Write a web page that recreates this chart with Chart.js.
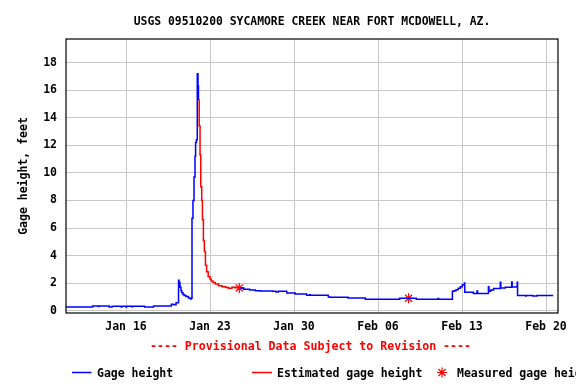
<!DOCTYPE html>
<html>
<head>
<meta charset="utf-8">
<script src="https://cdn.jsdelivr.net/npm/chart.js@4"></script>
<style>
  html, body { margin: 0; padding: 0; background: #fff; }
  #wrap { width: 576px; height: 384px; }
</style>
</head>
<body>
<div id="wrap"><canvas id="gage" width="576" height="384"></canvas></div>
<script>
// x values are days since Jan 11 00:00
const xTickDays = [5, 12, 19, 26, 33, 40];
const xTickLabels = ['Jan 16', 'Jan 23', 'Jan 30', 'Feb 06', 'Feb 13', 'Feb 20'];
const yTicks = [0, 2, 4, 6, 8, 10, 12, 14, 16, 18];

// gage height (blue), null = estimated period
const gageDays = [
    0, 2.22, 2.7, 2.75, 3.6, 3.85, 4.6, 4.65, 5.0, 5.05, 5.5, 5.55, 6.55, 7.3,
    8.78, 8.97, 9.17, 9.38, 9.42, 9.5, 9.58, 9.65, 9.75, 9.85, 10.0, 10.2, 10.38, 10.44,
    10.5, 10.58, 10.67, 10.75, 10.8, 10.87, 10.94, 11.0, 11.04,
    12.5,
    14.5, 14.8, 15.3, 15.78, 16.2, 17.2, 17.5, 17.7, 18.4, 19.1, 20.06, 20.3, 20.35,
    21.86, 22.0, 23.5, 24.94, 27.8, 29.19, 31.0, 31.05,
    32.2, 32.35, 32.5, 32.68, 32.86, 33.03, 33.2, 33.23, 33.95, 34.25, 34.3,
    35.2, 35.25, 35.4, 35.63, 36.19, 36.23, 36.6, 37.14, 37.18, 37.6, 37.63,
    38.3, 38.35, 38.9, 39.24, 40.6
];
const gageValues = [
    0.27, 0.34, 0.3, 0.34, 0.27, 0.32, 0.27, 0.32, 0.27, 0.32, 0.28, 0.32, 0.27, 0.34,
    0.46, 0.42, 0.58, 2.2, 2.05, 1.7, 1.45, 1.3, 1.18, 1.1, 1.02, 0.92, 0.85, 0.9,
    6.7, 8.0, 9.7, 11.2, 12.2, 12.4, 17.2, 16.3, 15.3,
    null,
    1.65, 1.55, 1.5, 1.45, 1.42, 1.4, 1.36, 1.4, 1.28, 1.21, 1.12, 1.16, 1.12,
    0.99, 0.97, 0.92, 0.83, 0.9, 0.83, 0.88, 0.83,
    1.41, 1.45, 1.52, 1.62, 1.74, 1.88, 2.0, 1.33, 1.25, 1.42, 1.25,
    1.74, 1.4, 1.5, 1.6, 2.06, 1.65, 1.7, 2.08, 1.72, 2.06, 1.1,
    1.06, 1.1, 1.07, 1.1, 1.1
];

// estimated gage height (red)
const estDays = [
    11.04, 11.1, 11.17, 11.23, 11.31, 11.37, 11.45, 11.53, 11.62, 11.72, 11.85,
    12.0, 12.1, 12.25, 12.44, 12.72, 13.0, 13.3, 13.55, 13.83, 14.5
];
const estValues = [
    15.3, 13.4, 11.3, 9.0, 8.0, 6.6, 5.1, 4.3, 3.3, 2.83, 2.47,
    2.3, 2.16, 2.05, 1.94, 1.8, 1.74, 1.68, 1.62, 1.7, 1.65
];

// field measurements
const measDays = [14.44, 28.55];
const measValues = [1.65, 0.9];

const toPoints = (xs, ys) => xs.map((x, i) => ({ x: x, y: ys[i] }));

const FONT = "'DejaVu Sans Mono', monospace";
Chart.defaults.font.family = FONT;
Chart.defaults.font.weight = 'bold';
Chart.defaults.color = '#000';

// plot frame, bottom note and legend
const extras = {
    id: 'extras',
    afterDatasetsDraw(chart) {
        const { ctx, chartArea: a } = chart;
        ctx.save();
        ctx.strokeStyle = '#000';
        ctx.lineWidth = 1.2;
        ctx.strokeRect(a.left, a.top, a.right - a.left, a.bottom - a.top);
        ctx.restore();
    },
    afterDraw(chart) {
        const { ctx } = chart;
        ctx.save();
        ctx.fillStyle = '#ff0000';
        ctx.font = 'bold 11.6px ' + FONT;
        ctx.textAlign = 'center';
        ctx.textBaseline = 'alphabetic';
        ctx.fillText('---- Provisional Data Subject to Revision ----', 310.5, 349.5);

        ctx.font = 'bold 11.5px ' + FONT;
        ctx.textAlign = 'left';
        ctx.fillStyle = '#000';
        ctx.lineWidth = 1.5;

        ctx.strokeStyle = '#0000ff';
        ctx.beginPath(); ctx.moveTo(72, 372.5); ctx.lineTo(91.5, 372.5); ctx.stroke();
        ctx.fillText('Gage height', 97, 376.5);

        ctx.strokeStyle = '#ff0000';
        ctx.beginPath(); ctx.moveTo(252, 372.5); ctx.lineTo(272, 372.5); ctx.stroke();
        ctx.fillText('Estimated gage height', 277, 376.5);

        ctx.lineWidth = 1.2;
        Chart.helpers.drawPoint(ctx, { pointStyle: 'star', radius: 5, rotation: 0, borderWidth: 1.2 }, 442, 372.5);
        ctx.fillText('Measured gage height', 457, 376.5);
        ctx.restore();
    }
};

new Chart(document.getElementById('gage'), {
    type: 'line',
    data: {
        datasets: [
            {
                label: 'Gage height',
                data: toPoints(gageDays, gageValues),
                borderColor: '#0000ff',
                borderWidth: 1.5,
                pointRadius: 0,
                stepped: true,
                spanGaps: false,
                fill: false
            },
            {
                label: 'Estimated gage height',
                data: toPoints(estDays, estValues),
                borderColor: '#ff0000',
                borderWidth: 1.5,
                pointRadius: 0,
                stepped: true,
                fill: false
            },
            {
                label: 'Measured gage height',
                data: toPoints(measDays, measValues),
                showLine: false,
                pointStyle: 'star',
                pointRadius: 5,
                borderColor: '#ff0000',
                backgroundColor: '#ff0000',
                pointBorderWidth: 1.2
            }
        ]
    },
    options: {
        responsive: false,
        animation: false,
        layout: { padding: { left: 6, right: 18, top: 0, bottom: 0 } },
        plugins: {
            legend: { display: false },
            tooltip: { enabled: false },
            title: {
                display: true,
                fullSize: false,
                text: 'USGS 09510200 SYCAMORE CREEK NEAR FORT MCDOWELL, AZ.',
                font: { size: 11.4, weight: 'bold' },
                color: '#000',
                padding: { top: 14.9, bottom: 10.42 }
            }
        },
        scales: {
            x: {
                type: 'linear',
                min: 0,
                max: 41,
                afterBuildTicks: s => { s.ticks = xTickDays.map(v => ({ value: v })); },
                afterFit: s => { s.height = 71; },
                ticks: {
                    autoSkip: false,
                    maxRotation: 0,
                    padding: 7,
                    font: { size: 11.5, weight: 'bold' },
                    callback: (v, i) => xTickLabels[i]
                },
                grid: { color: '#c8c8c8', lineWidth: 1, drawTicks: false },
                border: { display: false }
            },
            y: {
                min: -0.17,
                max: 19.72,
                afterBuildTicks: s => { s.ticks = yTicks.map(v => ({ value: v })); },
                afterFit: s => { s.width = 60; },
                ticks: {
                    padding: 9,
                    font: { size: 11.5, weight: 'bold' },
                    callback: v => String(v)
                },
                grid: { color: '#c8c8c8', lineWidth: 1, drawTicks: false },
                border: { display: false },
                title: {
                    display: true,
                    text: 'Gage height, feet',
                    font: { size: 11.5, weight: 'bold' },
                    padding: { top: 11, bottom: 0 }
                }
            }
        }
    },
    plugins: [extras]
});
</script>
</body>
</html>
